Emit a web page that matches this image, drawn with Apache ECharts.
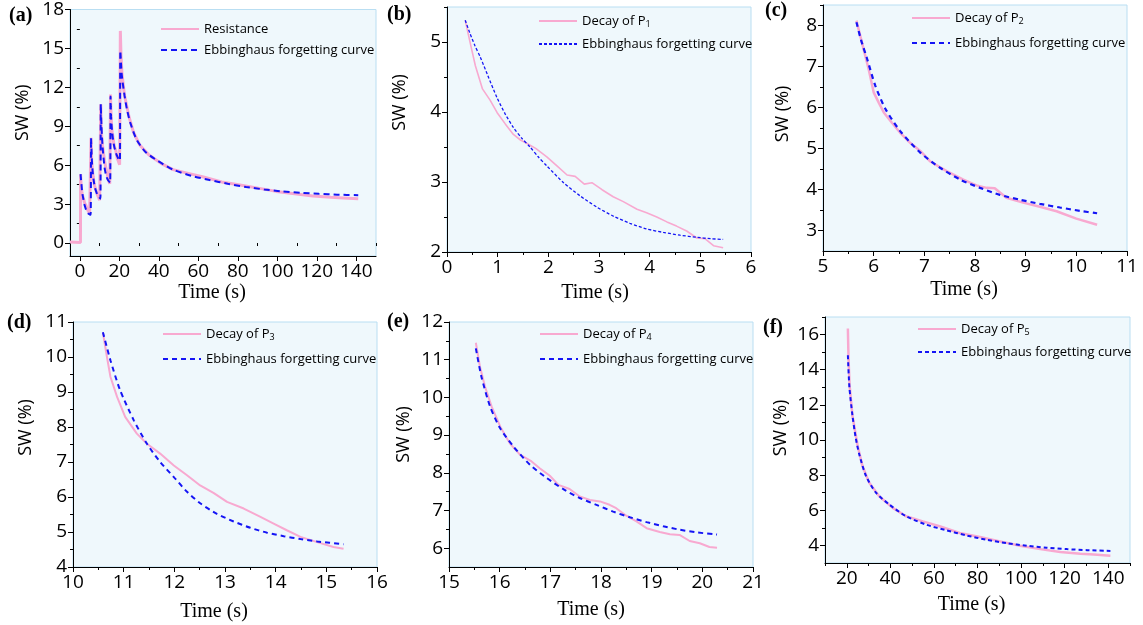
<!DOCTYPE html>
<html>
<head>
<meta charset="utf-8">
<script src="https://cdn.jsdelivr.net/npm/echarts@6/dist/echarts.min.js"></script>
<style>
  html, body { margin: 0; padding: 0; background: #ffffff; }
  #chart { width: 1143px; height: 625px; }
</style>
</head>
<body>
<div id="chart"></div>
<script>
// ---- Measured switching-weight data (SW, %) versus time (s) ----

// Baseline before the first pulse
const baseTime = [-5, 0.3];
const baseSW   = [0.08, 0.05];

// Decay after pulse P1
const p1Time = [0.36, 0.46, 0.56, 0.70, 0.85, 0.99, 1.15, 1.31, 1.45, 1.58, 1.75, 1.97, 2.17, 2.37, 2.53, 2.71, 2.86, 3.06, 3.28, 3.48, 3.75, 3.94, 4.14, 4.34, 4.53, 4.73, 4.93, 5.09, 5.26, 5.45];
const p1SW   = [5.31, 4.98, 4.66, 4.33, 4.17, 3.99, 3.83, 3.68, 3.60, 3.55, 3.48, 3.36, 3.23, 3.10, 3.08, 2.97, 2.99, 2.89, 2.79, 2.72, 2.61, 2.56, 2.50, 2.43, 2.37, 2.30, 2.20, 2.19, 2.09, 2.06];
const fit1Time = [0.36, 0.45, 0.55, 0.66, 0.80, 0.99, 1.15, 1.31, 1.47, 1.64, 1.80, 1.97, 2.30, 2.63, 2.96, 3.29, 3.61, 3.94, 4.27, 4.60, 4.93, 5.20, 5.45];
const fit1SW   = [5.31, 5.13, 4.95, 4.78, 4.53, 4.20, 3.97, 3.78, 3.63, 3.50, 3.36, 3.23, 2.99, 2.80, 2.64, 2.51, 2.41, 2.33, 2.28, 2.24, 2.21, 2.19, 2.18];

// Decay after pulse P2
const p2Time = [5.66, 5.80, 5.90, 6.00, 6.10, 6.20, 6.36, 6.52, 6.72, 6.92, 7.11, 7.44, 7.77, 8.03, 8.23, 8.39, 8.62, 8.95, 9.28, 9.61, 10.00, 10.41];
const p2SW   = [8.12, 7.43, 6.94, 6.37, 6.12, 5.88, 5.63, 5.39, 5.14, 4.94, 4.69, 4.45, 4.24, 4.10, 4.04, 4.03, 3.80, 3.68, 3.58, 3.47, 3.29, 3.14];
const fit2Time = [5.66, 5.75, 5.87, 6.03, 6.23, 6.52, 6.92, 7.31, 7.71, 8.10, 8.49, 8.89, 9.28, 9.68, 10.07, 10.41];
const fit2SW   = [8.08, 7.65, 7.19, 6.54, 5.97, 5.43, 4.90, 4.53, 4.24, 4.04, 3.87, 3.75, 3.65, 3.56, 3.48, 3.42];

// Decay after pulse P3
const p3Time = [10.59, 10.67, 10.74, 10.87, 11.03, 11.26, 11.46, 11.72, 11.99, 12.25, 12.51, 12.78, 13.04, 13.37, 13.70, 13.96, 14.22, 14.49, 14.82, 15.14, 15.34];
const p3SW   = [10.70, 10.00, 9.43, 8.86, 8.29, 7.81, 7.52, 7.24, 6.90, 6.62, 6.33, 6.11, 5.86, 5.67, 5.43, 5.24, 5.05, 4.86, 4.71, 4.57, 4.52];
const fit3Time = [10.59, 10.74, 10.93, 11.20, 11.46, 11.72, 11.99, 12.25, 12.51, 12.84, 13.17, 13.50, 13.83, 14.16, 14.49, 14.82, 15.34];
const fit3SW   = [10.71, 9.90, 9.05, 8.19, 7.52, 7.00, 6.57, 6.15, 5.82, 5.52, 5.30, 5.12, 4.98, 4.88, 4.80, 4.73, 4.65];

// Decay after pulse P4
const p4Time = [15.53, 15.61, 15.71, 15.84, 16.01, 16.20, 16.40, 16.63, 16.79, 16.99, 17.16, 17.38, 17.58, 17.78, 17.98, 18.17, 18.30, 18.50, 18.70, 18.90, 19.16, 19.36, 19.55, 19.75, 19.95, 20.14, 20.29];
const p4SW   = [11.45, 10.82, 10.29, 9.76, 9.23, 8.78, 8.48, 8.30, 8.12, 7.92, 7.68, 7.57, 7.37, 7.28, 7.24, 7.15, 7.06, 6.86, 6.71, 6.53, 6.43, 6.37, 6.35, 6.19, 6.13, 6.03, 6.01];
const fit4Time = [15.53, 15.64, 15.81, 16.01, 16.27, 16.60, 16.93, 17.25, 17.58, 17.91, 18.24, 18.57, 18.90, 19.23, 19.55, 19.88, 20.29];
const fit4SW   = [11.30, 10.55, 9.76, 9.18, 8.70, 8.21, 7.86, 7.57, 7.33, 7.15, 6.97, 6.82, 6.69, 6.58, 6.49, 6.42, 6.36];

// Decay after pulse P5
const p5Time = [20.5, 20.8, 21.3, 22.6, 25.0, 27.2, 30.3, 34.9, 41.1, 47.2, 54.9, 62.6, 71.8, 81.1, 90.3, 99.5, 108.8, 118.0, 127.2, 133.4, 141.0];
const p5SW   = [16.35, 14.60, 13.10, 11.38, 9.66, 8.52, 7.56, 6.80, 6.14, 5.66, 5.37, 5.09, 4.71, 4.48, 4.23, 3.98, 3.79, 3.62, 3.52, 3.48, 3.41];
const fit5Time = [20.5, 21.2, 22.6, 24.0, 25.7, 28.8, 33.4, 39.5, 47.2, 56.5, 65.7, 74.9, 84.2, 93.4, 102.6, 111.8, 121.1, 130.3, 141.0];
const fit5SW   = [14.82, 13.00, 11.40, 10.20, 9.20, 7.96, 7.00, 6.33, 5.66, 5.18, 4.86, 4.57, 4.32, 4.13, 3.98, 3.87, 3.79, 3.73, 3.69];

// ---- Tick values ----
const xTicksA = [0, 20, 40, 60, 80, 100, 120, 140];
const xMinorA = [10, 30, 50, 70, 90, 110, 130, 150];
const yTicksA = [0, 3, 6, 9, 12, 15, 18];
const yMinorA = [1.5, 4.5, 7.5, 10.5, 13.5, 16.5];

const xTicksB = [0, 1, 2, 3, 4, 5, 6];
const xMinorB = [0.5, 1.5, 2.5, 3.5, 4.5, 5.5];
const yTicksB = [2, 3, 4, 5];
const yMinorB = [2.5, 3.5, 4.5, 5.5];

const xTicksC = [5, 6, 7, 8, 9, 10, 11];
const xMinorC = [5.5, 6.5, 7.5, 8.5, 9.5, 10.5];
const yTicksC = [3, 4, 5, 6, 7, 8];
const yMinorC = [3.5, 4.5, 5.5, 6.5, 7.5, 8.5];

const xTicksD = [10, 11, 12, 13, 14, 15, 16];
const xMinorD = [10.5, 11.5, 12.5, 13.5, 14.5, 15.5];
const yTicksD = [4, 5, 6, 7, 8, 9, 10, 11];
const yMinorD = [4.5, 5.5, 6.5, 7.5, 8.5, 9.5, 10.5];

const xTicksE = [15, 16, 17, 18, 19, 20, 21];
const xMinorE = [15.5, 16.5, 17.5, 18.5, 19.5, 20.5];
const yTicksE = [6, 7, 8, 9, 10, 11, 12];
const yMinorE = [6.5, 7.5, 8.5, 9.5, 10.5, 11.5];

const xTicksF = [20, 40, 60, 80, 100, 120, 140];
const xMinorF = [10, 30, 50, 70, 90, 110, 130, 150];
const yTicksF = [4, 6, 8, 10, 12, 14, 16];
const yMinorF = [5, 7, 9, 11, 13, 15, 17];

// ---- Helpers ----
function pairs(xs, ys) { return xs.map((x, i) => [x, ys[i]]); }

// The overview panel strings every segment together
const resistanceTime = [].concat(baseTime, p1Time, p2Time, p3Time, p4Time, p5Time);
const resistanceSW   = [].concat(baseSW, p1SW, p2SW, p3SW, p4SW, p5SW);
const fitAllTime = [].concat(fit1Time, fit2Time, fit3Time, fit4Time, fit5Time);
const fitAllSW   = [].concat(fit1SW, fit2SW, fit3SW, fit4SW, fit5SW);

const PINK = '#f8a9d0';
const BLUE = '#1414f5';
const TICK_FONT = 'Open Sans';
const SERIF = 'Liberation Serif';

const legendText = {
  resA: 'Resistance',
  decB: 'Decay of P{s|1}',
  decC: 'Decay of P{s|2}',
  decD: 'Decay of P{s|3}',
  decE: 'Decay of P{s|4}',
  decF: 'Decay of P{s|5}',
  fitA: 'Ebbinghaus forgetting curve',
  fitB: 'Ebbinghaus forgetting curve',
  fitC: 'Ebbinghaus forgetting curve',
  fitD: 'Ebbinghaus forgetting curve',
  fitE: 'Ebbinghaus forgetting curve',
  fitF: 'Ebbinghaus forgetting curve'
};

const panels = [
  { tag: '(a)', tagPos: [9, 6], grid: { left: 70, top: 9, width: 306, height: 247 },
    x: [-5, 150, xTicksA, xMinorA], y: [-1, 18, yTicksA, yMinorA],
    xName: { gap: 27, shift: 11 }, yName: { gap: 38, shift: 20 },
    data: [['resA', resistanceTime, resistanceSW], ['fitA', fitAllTime, fitAllSW]],
    pinkW: 3, blueW: 2, dash: [6, 4],
    legend: { left: 160, top: 21, gap: 5 } },
  { tag: '(b)', tagPos: [387, 5], grid: { left: 447, top: 7, width: 304, height: 245 },
    x: [0, 6, xTicksB, xMinorB], y: [2, 5.5, yTicksB, yMinorB],
    xName: { gap: 31, shift: 4 }, yName: { gap: 38, shift: 27 },
    data: [['decB', p1Time, p1SW], ['fitB', fit1Time, fit1SW]],
    pinkW: 1.6, blueW: 1.3, dash: [3, 2],
    legend: { left: 538, top: 13, gap: 7 } },
  { tag: '(c)', tagPos: [765, 1], grid: { left: 823, top: 5, width: 304, height: 246 },
    x: [5, 11, xTicksC, xMinorC], y: [2.5, 8.5, yTicksC, yMinorC],
    xName: { gap: 29, shift: 11 }, yName: { gap: 31, shift: 14 },
    data: [['decC', p2Time, p2SW], ['fitC', fit2Time, fit2SW]],
    pinkW: 2.5, blueW: 2.2, dash: [5, 4],
    legend: { left: 911, top: 10, gap: 9 } },
  { tag: '(d)', tagPos: [7, 313], grid: { left: 73, top: 322, width: 304, height: 245 },
    x: [10, 16, xTicksD, xMinorD], y: [4, 11, yTicksD, yMinorD],
    xName: { gap: 35, shift: 11 }, yName: { gap: 38, shift: 17 },
    data: [['decD', p3Time, p3SW], ['fitD', fit3Time, fit3SW]],
    pinkW: 2, blueW: 2, dash: [5, 4],
    legend: { left: 162, top: 326, gap: 9 } },
  { tag: '(e)', tagPos: [387, 312], grid: { left: 449, top: 322, width: 304, height: 245 },
    x: [15, 21, xTicksE, xMinorE], y: [5.5, 12, yTicksE, yMinorE],
    xName: { gap: 33, shift: 10 }, yName: { gap: 36, shift: 10 },
    data: [['decE', p4Time, p4SW], ['fitE', fit4Time, fit4SW]],
    pinkW: 2, blueW: 2, dash: [5, 4],
    legend: { left: 539, top: 326, gap: 9 } },
  { tag: '(f)', tagPos: [763, 318], grid: { left: 825, top: 317, width: 305, height: 246 },
    x: [10, 150, xTicksF, xMinorF], y: [3, 17, yTicksF, yMinorF],
    xName: { gap: 32, shift: 6 }, yName: { gap: 35, shift: 12 },
    data: [['decF', p5Time, p5SW], ['fitF', fit5Time, fit5SW]],
    pinkW: 2.5, blueW: 2, dash: [4, 3],
    legend: { left: 917, top: 321, gap: 7 } }
];

const option = {
  animation: false,
  backgroundColor: '#ffffff',
  title: [], grid: [], xAxis: [], yAxis: [], series: [], legend: []
};

panels.forEach((p, i) => {
  option.grid.push(Object.assign({
    show: true, backgroundColor: '#eff8fc', borderColor: '#b9def2', borderWidth: 1
  }, p.grid));

  option.title.push({
    text: p.tag, left: p.tagPos[0], top: p.tagPos[1], padding: 0,
    textStyle: { fontFamily: SERIF, fontWeight: 'bold', fontSize: 20, color: '#000' }
  });

  const [xmin, xmax, xt, xm] = p.x;
  const [ymin, ymax, yt, ym] = p.y;

  // main x axis
  option.xAxis.push({
    type: 'value', gridIndex: i, min: xmin, max: xmax, position: 'bottom',
    axisLine: { show: true, onZero: false, lineStyle: { color: '#000', width: 1 } },
    axisTick: { show: true, length: 5, customValues: xt, lineStyle: { color: '#000' } },
    axisLabel: { customValues: xt, margin: 6, fontFamily: TICK_FONT, fontSize: 19, color: '#000' },
    splitLine: { show: false },
    name: 'Time (s)', nameLocation: 'middle', nameGap: p.xName.gap,
    nameTextStyle: { fontFamily: SERIF, fontSize: 20, color: '#000', padding: [0, p.xName.shift * 2, 0, 0] }
  });
  // minor x ticks
  option.xAxis.push({
    type: 'value', gridIndex: i, min: xmin, max: xmax, position: 'bottom',
    axisLine: { show: false },
    axisTick: { show: true, length: 3, customValues: xm, lineStyle: { color: '#000' } },
    axisLabel: { show: false }, splitLine: { show: false }
  });
  // main y axis
  option.yAxis.push({
    type: 'value', gridIndex: i, min: ymin, max: ymax, position: 'left',
    axisLine: { show: true, onZero: false, lineStyle: { color: '#000', width: 1 } },
    axisTick: { show: true, length: 5, customValues: yt, lineStyle: { color: '#000' } },
    axisLabel: { customValues: yt, margin: 6, fontFamily: TICK_FONT, fontSize: 19, color: '#000' },
    splitLine: { show: false },
    name: 'SW (%)', nameLocation: 'middle', nameGap: p.yName.gap,
    nameTextStyle: { fontFamily: TICK_FONT, fontSize: 18, color: '#000', padding: [0, 0, 0, p.yName.shift * 2] }
  });
  // minor y ticks
  option.yAxis.push({
    type: 'value', gridIndex: i, min: ymin, max: ymax, position: 'left',
    axisLine: { show: false },
    axisTick: { show: true, length: 3, customValues: ym, lineStyle: { color: '#000' } },
    axisLabel: { show: false }, splitLine: { show: false }
  });

  const [measured, fitted] = p.data;
  option.series.push({
    type: 'line', name: measured[0], xAxisIndex: 2 * i, yAxisIndex: 2 * i,
    data: pairs(measured[1], measured[2]), symbol: 'none', showSymbol: false,
    lineStyle: { color: PINK, width: p.pinkW }, itemStyle: { color: PINK }, z: 2
  });
  option.series.push({
    type: 'line', name: fitted[0], xAxisIndex: 2 * i, yAxisIndex: 2 * i,
    data: pairs(fitted[1], fitted[2]), symbol: 'none', showSymbol: false, smooth: 0.25,
    lineStyle: { color: BLUE, width: p.blueW, type: p.dash }, itemStyle: { color: BLUE }, z: 3
  });

  option.legend.push({
    data: [measured[0], fitted[0]], orient: 'vertical',
    left: p.legend.left, top: p.legend.top, itemGap: p.legend.gap,
    itemWidth: 38, itemHeight: 14, padding: 0, selectedMode: false,
    itemStyle: { opacity: 0 },
    formatter: name => legendText[name],
    textStyle: {
      fontFamily: TICK_FONT, fontSize: 13, lineHeight: 16, color: '#000',
      rich: { s: { fontFamily: TICK_FONT, fontSize: 9, lineHeight: 9, color: '#000', padding: [7, 0, 0, 0] } }
    }
  });
});

const chart = echarts.init(document.getElementById('chart'), null, { renderer: 'canvas' });
chart.setOption(option);
</script>
</body>
</html>
